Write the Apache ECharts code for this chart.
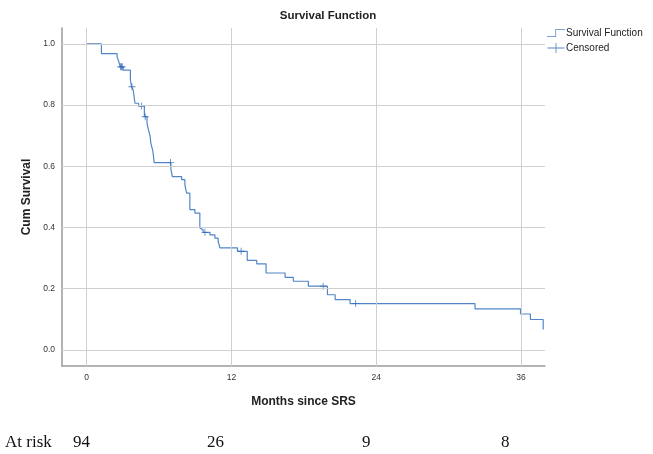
<!DOCTYPE html>
<html>
<head>
<meta charset="utf-8">
<script src="https://cdn.jsdelivr.net/npm/echarts@6/dist/echarts.min.js"></script>
<style>
html,body{margin:0;padding:0;background:#fff;}
#chart{width:653px;height:454px;}
</style>
</head>
<body>
<div id="chart"></div>
<script>
// ---- data ----
var survivalTimes = [0, 1.22, 2.52, 2.62, 2.78, 3.02, 3.62, 3.72, 3.85, 4.0, 4.3, 4.78, 5.0, 5.12, 5.25, 5.32, 5.48, 5.6, 6.98, 7.1, 7.87, 8.14, 8.28, 8.55, 8.97, 9.38, 9.5, 9.65, 10.22, 10.63, 10.9, 11.05, 12.5, 13.31, 14.1, 14.87, 16.45, 17.13, 18.38, 19.96, 20.6, 21.84, 32.2, 35.97, 36.79, 37.85];
var survivalProb = [1.0, 0.968, 0.957, 0.947, 0.925, 0.914, 0.882, 0.860, 0.850, 0.806, 0.797, 0.762, 0.740, 0.719, 0.700, 0.675, 0.650, 0.612, 0.590, 0.566, 0.556, 0.539, 0.512, 0.458, 0.447, 0.398, 0.392, 0.384, 0.376, 0.365, 0.354, 0.333, 0.322, 0.292, 0.281, 0.251, 0.237, 0.224, 0.208, 0.180, 0.164, 0.151, 0.134, 0.117, 0.099, 0.066];
var censorTimes = [2.8, 2.88, 2.95, 3.75, 4.55, 4.85, 6.95, 9.8, 12.8, 19.6, 22.3];
var censorProb = [0.925, 0.925, 0.925, 0.860, 0.797, 0.762, 0.612, 0.384, 0.322, 0.208, 0.151];
var xTicks = [0, 12, 24, 36];
var yTicks = [0, 0.2, 0.4, 0.6, 0.8, 1.0];
var atRiskLabel = 'At risk';
var atRiskCounts = [94, 26, 9, 8];

var chart = echarts.init(document.getElementById('chart'), null, {renderer: 'canvas'});

var lineData = survivalTimes.map(function (t, i) { return [t, survivalProb[i]]; });
var censorData = censorTimes.map(function (t, i) { return [t, censorProb[i]]; });

var plusPath = 'path://M4.4,0 H5.6 V4.4 H10 V5.6 H5.6 V10 H4.4 V5.6 H0 V4.4 H4.4 Z';
var stepIcon = 'path://M0,8.3 H8.4 V1 H18 V1.7 H9.1 V9 H0 Z';
var censorIcon = 'path://M0,4.6 H8.1 V0 H8.9 V4.6 H17 V5.4 H8.9 V10 H8.1 V5.4 H0 Z';

var gridColor = '#cfcfcf';
var font = '"Liberation Sans", Arial, sans-serif';
var serifFont = '17px "Liberation Serif", "Times New Roman", serif';

var option = {
  animation: false,
  backgroundColor: '#ffffff',
  title: {
    text: 'Survival Function',
    left: 323,
    top: 5,
    textAlign: 'center',
    textStyle: {fontFamily: font, fontSize: 11.5, fontWeight: 'bold', color: '#222'}
  },
  legend: {
    orient: 'vertical',
    left: 547,
    top: 28,
    padding: 0,
    itemWidth: 18,
    itemHeight: 10,
    itemGap: 5,
    data: [
      {name: 'Survival Function', icon: stepIcon},
      {name: 'Censored', icon: censorIcon}
    ],
    textStyle: {fontFamily: font, fontSize: 10, color: '#222', padding: [0, 0, 0, -4]}
  },
  grid: {left: 62, right: 108, top: 28, bottom: 88, containLabel: false},
  xAxis: {
    type: 'value',
    min: -2.05,
    max: 38,
    name: 'Months since SRS',
    nameLocation: 'middle',
    nameGap: 30,
    nameTextStyle: {fontFamily: font, fontSize: 12, fontWeight: 'bold', color: '#222'},
    axisLine: {show: true, onZero: false, lineStyle: {color: '#9a9a9a', width: 1.5}},
    axisTick: {show: false},
    splitLine: {show: false},
    axisLabel: {
      customValues: xTicks,
      fontFamily: font, fontSize: 8.5, color: '#333', margin: 7,
      formatter: function (v) { return String(v); }
    }
  },
  yAxis: {
    type: 'value',
    min: -0.053,
    max: 1.052,
    name: 'Cum Survival',
    nameLocation: 'middle',
    nameGap: 28,
    nameTextStyle: {fontFamily: font, fontSize: 12, fontWeight: 'bold', color: '#222'},
    axisLine: {show: true, onZero: false, lineStyle: {color: '#9a9a9a', width: 1.5}},
    axisTick: {show: false},
    splitLine: {show: false},
    axisLabel: {
      customValues: yTicks,
      fontFamily: font, fontSize: 8.5, color: '#333', margin: 7,
      formatter: function (v) { return v.toFixed(1); }
    }
  },
  series: [
    {
      name: 'gridlines',
      type: 'line',
      data: [],
      z: 1,
      silent: true,
      markLine: {
        silent: true,
        symbol: 'none',
        label: {show: false},
        lineStyle: {color: gridColor, type: 'solid', width: 1},
        data: xTicks.map(function (v) { return {xAxis: v}; })
          .concat(yTicks.map(function (v) { return {yAxis: v}; }))
      }
    },
    {
      name: 'Survival Function',
      type: 'line',
      step: 'end',
      data: lineData,
      showSymbol: false,
      symbol: 'none',
      z: 3,
      itemStyle: {color: '#5086c9'},
      lineStyle: {color: '#5086c9', width: 1.2}
    },
    {
      name: 'Censored',
      type: 'scatter',
      data: censorData,
      symbol: plusPath,
      symbolSize: 7,
      z: 4,
      itemStyle: {color: '#2f68b5'}
    }
  ],
  graphic: [
    {type: 'text', left: 5, top: 434, style: {text: atRiskLabel, font: serifFont, fill: '#111'}},
    {type: 'text', left: 73, top: 434, style: {text: String(atRiskCounts[0]), font: serifFont, fill: '#111'}},
    {type: 'text', left: 207, top: 434, style: {text: String(atRiskCounts[1]), font: serifFont, fill: '#111'}},
    {type: 'text', left: 362, top: 434, style: {text: String(atRiskCounts[2]), font: serifFont, fill: '#111'}},
    {type: 'text', left: 501, top: 434, style: {text: String(atRiskCounts[3]), font: serifFont, fill: '#111'}}
  ]
};
chart.setOption(option);
</script>
</body>
</html>
